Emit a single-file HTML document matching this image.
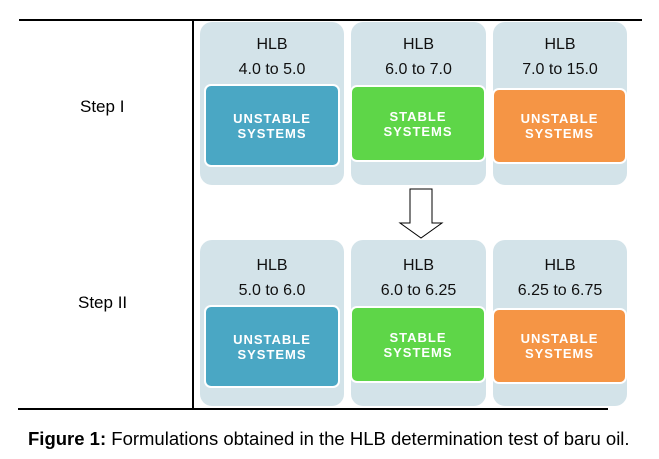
<!DOCTYPE html>
<html><head><style>
body{margin:0;width:659px;height:459px;background:#fff;position:relative;overflow:hidden;font-family:"Liberation Sans",Arial,sans-serif}
.a{position:absolute}
.card{position:absolute;background:#d3e3e9;border-radius:12px}
.h{position:absolute;left:0;right:0;text-align:center;color:#111;font-size:16px}
.in{position:absolute;border-radius:7px;border:2px solid #fff;color:#fff;font-weight:bold;font-size:13px;letter-spacing:1px;text-align:center;display:flex;align-items:center;justify-content:center;line-height:15px}
.b{background:#4aa7c4}.g{background:#5ed648}.o{background:#f59545}
</style></head><body>
<div class="a" style="left:19px;top:19px;width:623px;height:2px;background:#000"></div>
<div class="a" style="left:192px;top:20px;width:1.5px;height:389px;background:#000"></div>
<div class="a" style="left:18px;top:408px;width:590px;height:2px;background:#000"></div>
<div class="a" style="left:80px;top:97px;font-size:17px">Step I</div>
<div class="a" style="left:78px;top:293px;font-size:17px">Step II</div>

<div class="card" style="left:200px;top:22px;width:144px;height:163px"><div class="h" style="top:14px">HLB</div><div class="h" style="top:39px">4.0 to 5.0</div></div>
<div class="in b" style="left:204px;top:84px;width:132px;height:79px">UNSTABLE<br>SYSTEMS</div>
<div class="card" style="left:351px;top:22px;width:135px;height:163px"><div class="h" style="top:14px">HLB</div><div class="h" style="top:39px">6.0 to 7.0</div></div>
<div class="in g" style="left:350px;top:85px;width:132px;height:73px">STABLE<br>SYSTEMS</div>
<div class="card" style="left:493px;top:22px;width:134px;height:163px"><div class="h" style="top:14px">HLB</div><div class="h" style="top:39px">7.0 to 15.0</div></div>
<div class="in o" style="left:492px;top:88px;width:131px;height:72px">UNSTABLE<br>SYSTEMS</div>

<div class="card" style="left:200px;top:240px;width:144px;height:166px"><div class="h" style="top:17px">HLB</div><div class="h" style="top:42px">5.0 to 6.0</div></div>
<div class="in b" style="left:204px;top:305px;width:132px;height:79px">UNSTABLE<br>SYSTEMS</div>
<div class="card" style="left:351px;top:240px;width:135px;height:166px"><div class="h" style="top:17px">HLB</div><div class="h" style="top:42px">6.0 to 6.25</div></div>
<div class="in g" style="left:350px;top:306px;width:132px;height:73px">STABLE<br>SYSTEMS</div>
<div class="card" style="left:493px;top:240px;width:134px;height:166px"><div class="h" style="top:17px">HLB</div><div class="h" style="top:42px">6.25 to 6.75</div></div>
<div class="in o" style="left:492px;top:308px;width:131px;height:72px">UNSTABLE<br>SYSTEMS</div>

<svg class="a" style="left:0;top:0" width="659" height="459"><polygon points="410,189 432,189 432,223 442,223 421,238 400,223 410,223" fill="#fff" stroke="#000" stroke-width="1"/></svg>

<div class="a" style="left:28px;top:428px;font-size:18.5px;white-space:nowrap"><b>Figure 1:</b> Formulations obtained in the HLB determination test of baru oil.</div>
</body></html>
